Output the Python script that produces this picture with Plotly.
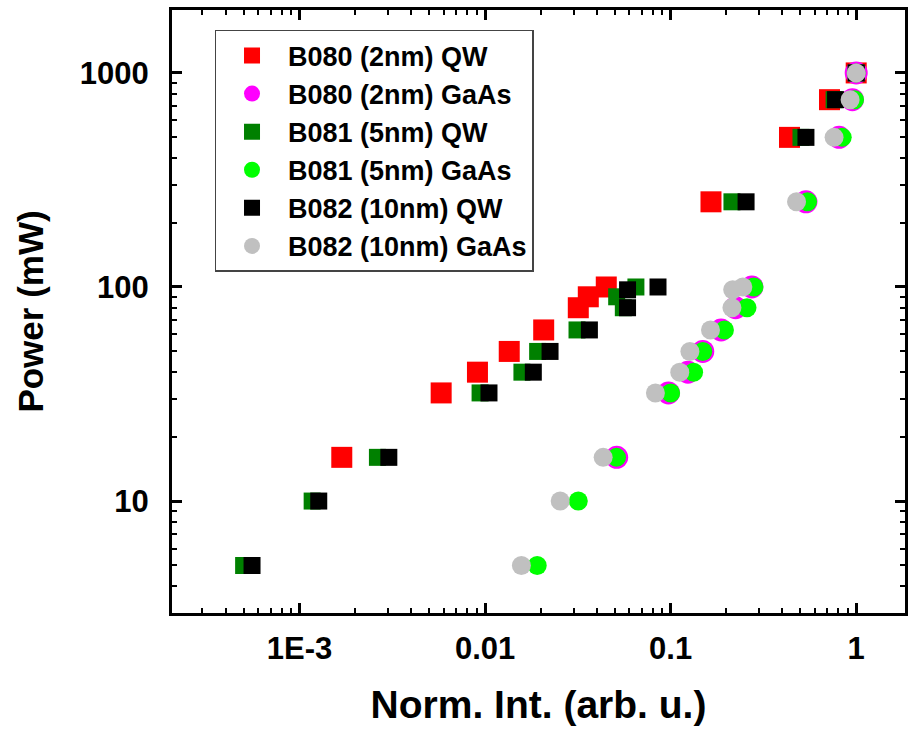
import plotly.graph_objects as go

# ---- data ----
p_b080_qw = [16, 32, 40, 50, 63, 80, 90, 100, 250, 500, 750, 1000]
x_b080_qw = [0.00169, 0.0058, 0.0091, 0.0135, 0.0207, 0.0318, 0.036, 0.045, 0.165, 0.437, 0.718, 1.0]

p_b080_gaas = [16, 32, 40, 50, 63, 80, 100, 250, 500, 750, 1000]
x_b080_gaas = [0.0512, 0.0973, 0.124, 0.149, 0.187, 0.224, 0.274, 0.536, 0.809, 0.954, 1.0]

p_b081_qw = [5, 10, 16, 32, 40, 50, 63, 80, 90, 100, 250, 500, 750, 1000]
x_b081_qw = [0.00050, 0.00117, 0.00263, 0.0094, 0.0158, 0.0192, 0.0313, 0.0556, 0.0512, 0.065, 0.214, 0.504, 0.76, 1.0]

p_b081_gaas = [5, 10, 16, 32, 40, 50, 63, 80, 100, 250, 500, 750, 1000]
x_b081_gaas = [0.0191, 0.0318, 0.0511, 0.100, 0.133, 0.149, 0.195, 0.258, 0.281, 0.547, 0.841, 0.98, 1.0]

p_b082_qw = [5, 10, 16, 32, 40, 50, 63, 80, 97, 100, 250, 500, 750, 1000]
x_b082_qw = [0.000555, 0.00127, 0.00303, 0.0105, 0.0182, 0.0224, 0.0365, 0.0586, 0.0586, 0.0855, 0.255, 0.536, 0.774, 1.0]

p_b082_gaas = [5, 10, 16, 32, 40, 50, 63, 80, 97, 100, 250, 500, 750, 1000]
x_b082_gaas = [0.0157, 0.0254, 0.0433, 0.0828, 0.112, 0.127, 0.164, 0.214, 0.216, 0.245, 0.477, 0.760, 0.927, 1.0]

series_names = ["B080 (2nm) QW", "B080 (2nm) GaAs", "B081 (5nm) QW",
                "B081 (5nm) GaAs", "B082 (10nm) QW", "B082 (10nm) GaAs"]

x_tickvals = [0.001, 0.01, 0.1, 1]
x_ticktext = ["1E-3", "0.01", "0.1", "1"]
y_tickvals = [10, 100, 1000]
y_ticktext = ["10", "100", "1000"]

# ---- styles ----
styles = [
    dict(symbol="square", color="#FF0000", size=21),
    dict(symbol="circle", color="#FF00FF", size=23),
    dict(symbol="square", color="#008000", size=17),
    dict(symbol="circle", color="#00FF00", size=19),
    dict(symbol="square", color="#000000", size=17),
    dict(symbol="circle", color="#C0C0C0", size=19),
]
data = [
    (x_b080_qw, p_b080_qw), (x_b080_gaas, p_b080_gaas),
    (x_b081_qw, p_b081_qw), (x_b081_gaas, p_b081_gaas),
    (x_b082_qw, p_b082_qw), (x_b082_gaas, p_b082_gaas),
]

FONT = "Liberation Sans, Arial, sans-serif"

fig = go.Figure()
for name, (xs, ys), st in zip(series_names, data, styles):
    fig.add_trace(go.Scatter(
        x=xs, y=ys, mode="markers", name=name,
        marker=dict(symbol=st["symbol"], color=st["color"], size=st["size"],
                    line=dict(width=0)),
    ))

minor_x = [m * 10 ** e for e in range(-4, 1) for m in range(2, 10)]
minor_y = [m * 10 ** e for e in range(0, 4) for m in range(2, 10)]

fig.update_layout(
    width=910, height=730,
    margin=dict(l=172, r=2, t=10, b=117, pad=0),
    paper_bgcolor="white", plot_bgcolor="white",
    font=dict(family=FONT, color="black"),
    showlegend=True,
    legend=dict(
        x=0.058, y=0.967, xanchor="left", yanchor="top",
        bgcolor="white", bordercolor="#444444", borderwidth=1.5,
        font=dict(family=FONT, size=27, color="black", weight="bold"),
        itemsizing="trace", tracegroupgap=0, itemwidth=62,
    ),
    xaxis=dict(
        type="log", range=[-3.687, 0.263],
        showline=True, linecolor="black", linewidth=3, mirror="allticks",
        ticks="inside", ticklen=10, tickwidth=3, tickcolor="black",
        tickmode="array", tickvals=x_tickvals, ticktext=x_ticktext,
        tickfont=dict(family=FONT, size=31, color="black", weight="bold"),
        ticklabelstandoff=6,
        minor=dict(ticks="inside", ticklen=5, tickwidth=2, tickcolor="black",
                   tickmode="array", tickvals=minor_x, showgrid=False),
        showgrid=False, zeroline=False,
        title=dict(text="Norm. Int. (arb. u.)", standoff=26,
                   font=dict(family=FONT, size=39, color="black", weight="bold")),
    ),
    yaxis=dict(
        type="log", range=[0.477, 3.294],
        showline=True, linecolor="black", linewidth=3, mirror="allticks",
        ticks="inside", ticklen=10, tickwidth=3, tickcolor="black",
        tickmode="array", tickvals=y_tickvals, ticktext=y_ticktext,
        tickfont=dict(family=FONT, size=31, color="black", weight="bold"),
        ticklabelstandoff=14,
        minor=dict(ticks="inside", ticklen=5, tickwidth=2, tickcolor="black",
                   tickmode="array", tickvals=minor_y, showgrid=False),
        showgrid=False, zeroline=False,
        title=dict(text="Power (mW)", standoff=26,
                   font=dict(family=FONT, size=35, color="black", weight="bold")),
    ),
)

fig.write_html("out.html")
